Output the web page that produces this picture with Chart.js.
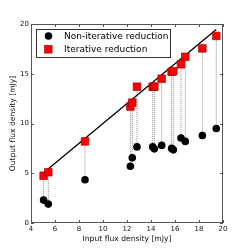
<!DOCTYPE html>
<html><head><meta charset="utf-8">
<script src="https://cdn.jsdelivr.net/npm/chart.js@4/dist/chart.umd.min.js"></script>
<style>html,body{margin:0;padding:0;background:#fff}#wrap{width:248px;height:248px}</style>
</head><body><div id="wrap"><canvas id="c" width="248" height="248"></canvas></div>
<script>
const inputFlux = [5.05, 5.44, 8.5, 12.28, 12.44, 12.83, 14.14, 14.28, 14.89, 15.72, 15.86, 16.5, 16.86, 18.28, 19.44];
const nonIterative = [2.3, 1.9, 4.35, 5.7, 6.55, 7.65, 7.65, 7.45, 7.8, 7.5, 7.35, 8.55, 8.2, 8.8, 9.5];
const iterative = [4.75, 5.1, 8.2, 11.7, 12.1, 13.7, 13.7, 13.7, 14.5, 15.2, 15.25, 15.95, 16.7, 17.55, 18.8];
const xTicks = [4, 6, 8, 10, 12, 14, 16, 18, 20];
const yTicks = [0, 5, 10, 15, 20];
const seriesNames = ['Non-iterative reduction', 'Iterative reduction'];
const xTitle = 'Input flux density [mJy]';
const yTitle = 'Output flux density [mJy]';

const FONT = 'DejaVu Sans';
const datasets = [];
inputFlux.forEach((x, i) => {
  datasets.push({
    type: 'line', data: [{x: x, y: nonIterative[i]}, {x: x, y: iterative[i]}],
    borderColor: '#8c8c8c', borderWidth: 1, borderDash: [1, 1], pointRadius: 0, fill: false, order: 5
  });
});
const lo = Math.min(...inputFlux), hi = Math.max(...inputFlux);
datasets.push({
  type: 'line', data: [{x: lo, y: lo}, {x: hi, y: hi}],
  borderColor: '#000', borderWidth: 1.3, pointRadius: 0, fill: false, order: 4
});
datasets.push({
  label: seriesNames[0], data: inputFlux.map((x, i) => ({x: x, y: nonIterative[i]})),
  backgroundColor: '#000', borderColor: '#000', pointRadius: 3.8, pointStyle: 'circle', borderWidth: 0, order: 3
});
datasets.push({
  label: seriesNames[1], data: inputFlux.map((x, i) => ({x: x, y: iterative[i]})),
  backgroundColor: '#ff0000', borderColor: '#8a0000', pointRadius: 5.4, pointStyle: 'rect', borderWidth: 0.6, order: 2
});

const deco = {
  id: 'deco',
  afterDraw(chart) {
    const ctx = chart.ctx, a = chart.chartArea;
    const xs = chart.scales.x, ys = chart.scales.y;
    ctx.save();
    ctx.strokeStyle = '#555'; ctx.lineWidth = 1;
    ctx.strokeRect(Math.round(a.left) + 0.5, Math.round(a.top) + 0.5, Math.round(a.right - a.left) - 1, Math.round(a.bottom - a.top) - 1);
    ctx.beginPath();
    xTicks.forEach(v => {
      const p = Math.round(xs.getPixelForValue(v)) + 0.5;
      ctx.moveTo(p, a.bottom); ctx.lineTo(p, a.bottom - 3);
      ctx.moveTo(p, a.top); ctx.lineTo(p, a.top + 3);
    });
    yTicks.forEach(v => {
      const p = Math.round(ys.getPixelForValue(v)) + 0.5;
      ctx.moveTo(a.left, p); ctx.lineTo(a.left + 3, p);
      ctx.moveTo(a.right, p); ctx.lineTo(a.right - 3, p);
    });
    ctx.stroke();
    // legend
    ctx.fillStyle = '#fff'; ctx.strokeStyle = '#333';
    ctx.fillRect(36, 29, 135, 29);
    ctx.strokeRect(36.5, 29.5, 134, 28);
    ctx.fillStyle = '#000';
    ctx.beginPath(); ctx.arc(48.5, 36, 3.8, 0, Math.PI * 2); ctx.fill();
    ctx.fillStyle = '#ff0000'; ctx.fillRect(44.5, 45.5, 7.6, 7.6);
    ctx.strokeStyle = '#8a0000'; ctx.lineWidth = 0.6; ctx.strokeRect(44.5, 45.5, 7.6, 7.6);
    ctx.fillStyle = '#000'; ctx.font = '9px "' + FONT + '"';
    ctx.textBaseline = 'middle'; ctx.textAlign = 'left';
    ctx.fillText(seriesNames[0], 64, 36.5);
    ctx.fillText(seriesNames[1], 64, 49.5);
    // titles
    ctx.fillStyle = '#111';
    ctx.font = '7.6px "' + FONT + '"'; ctx.textAlign = 'center';
    ctx.fillText(xTitle, (a.left + a.right) / 2, 239);
    ctx.translate(13, (a.top + a.bottom) / 2); ctx.rotate(-Math.PI / 2);
    ctx.fillText(yTitle, 0, 0);
    ctx.restore();
  }
};

new Chart(document.getElementById('c'), {
  type: 'scatter',
  data: {datasets: datasets},
  options: {
    responsive: false, animation: false, devicePixelRatio: 1,
    layout: {padding: {left: 0, top: 24, right: 25, bottom: 0}},
    plugins: {legend: {display: false}, tooltip: {enabled: false}},
    scales: {
      x: {
        type: 'linear', min: 4, max: 20,
        afterFit(s) { s.height = 25; },
        afterBuildTicks(s) { s.ticks = xTicks.map(v => ({value: v})); },
        grid: {display: false, drawTicks: false},
        border: {display: false},
        ticks: {padding: 2, color: '#111', font: {family: FONT, size: 7}, maxRotation: 0, autoSkip: false}
      },
      y: {
        type: 'linear', min: 0, max: 20,
        afterFit(s) { s.width = 31; },
        afterBuildTicks(s) { s.ticks = yTicks.map(v => ({value: v})); },
        grid: {display: false, drawTicks: false},
        border: {display: false},
        ticks: {padding: 2, color: '#111', font: {family: FONT, size: 7}, autoSkip: false}
      }
    }
  },
  plugins: [deco]
});
</script></body></html>
